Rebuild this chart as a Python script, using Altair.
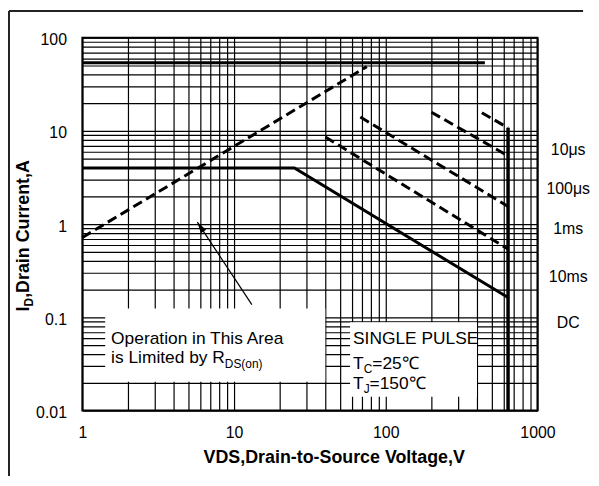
import altair as alt
import pandas as pd

FONT = "Liberation Sans"

# ---- grid / tick values ----
x_grid = [round(k * 10 ** e, 6) for e in range(0, 3) for k in range(1, 10)] + [1000]
y_grid = [round(k * 10 ** e, 6) for e in range(-2, 2) for k in range(1, 10)] + [100]
x_labels = [1, 10, 100, 1000]
y_labels = [0.01, 0.1, 1, 10, 100]

# ---- SOA curves (V, A) ----
solid_series = ["I_limit", "I_limit", "DC", "DC", "DC", "BV", "BV"]
solid_v = [1, 450, 1, 25, 640, 640, 640]
solid_i = [54, 54, 4, 4, 0.163, 10.8, 0.01]
solid_w = [3, 3, 3, 3, 3, 3.5, 3.5]

dash_series = ["RDS", "RDS", "10us", "10us", "100us", "100us", "1ms", "1ms", "10ms", "10ms"]
dash_v = [1, 75, 430, 640, 200, 640, 68, 640, 40, 640]
dash_i = [0.72, 49, 15.7, 10.8, 15.9, 5.4, 14.1, 1.55, 8.6, 0.54]

# right-hand labels
curve_labels = ["10μs", "100μs", "1ms", "10ms", "DC"]
curve_label_i = [6.28, 2.41, 0.885, 0.273, 0.0863]

# annotation arrow (tail -> tip)
arrow_v = [13.1, 5.73]
arrow_i = [0.137, 1.05]

solid_df = pd.DataFrame({"s": solid_series, "V": solid_v, "I": solid_i, "w": solid_w,
                         "o": list(range(len(solid_v)))})
dash_df = pd.DataFrame({"s": dash_series, "V": dash_v, "I": dash_i, "o": list(range(len(dash_v)))})
lab_df = pd.DataFrame({"t": curve_labels, "I": curve_label_i})
arrow_df = pd.DataFrame({"V": arrow_v, "I": arrow_i, "o": [0, 1]})
tip_df = pd.DataFrame({"V": [arrow_v[1]], "I": [arrow_i[1]]})
one = pd.DataFrame({"a": [0]})

xs = alt.Scale(type="log", domain=[1, 1000], nice=False)
ys = alt.Scale(type="log", domain=[0.01, 100], nice=False)

x_axis = alt.Axis(values=x_grid, grid=True, labelOverlap=False, labelFlush=False, labelBound=False,
                  labelExpr="indexof([1,10,100,1000], datum.value) >= 0 ? format(datum.value, '~g') : ''",
                  title=None, ticks=False, tickSize=0, domain=False, labelPadding=14)
y_axis = alt.Axis(values=y_grid, grid=True, labelOverlap=False, labelFlush=False, labelBound=False,
                  labelExpr="indexof([0.01,0.1,1,10,100], datum.value) >= 0 ? format(datum.value, '~g') : ''",
                  title=None, ticks=False, tickSize=0, domain=False, labelPadding=16, labelOffset=2)

base_x = alt.X("V:Q", scale=xs, axis=x_axis)
base_y = alt.Y("I:Q", scale=ys, axis=y_axis)

solid = alt.Chart(solid_df).mark_line(color="black", strokeCap="butt", strokeJoin="miter").encode(
    x=base_x, y=base_y, detail="s:N", order="o:Q",
    strokeWidth=alt.StrokeWidth("w:Q", scale=None, legend=None))

dashed = alt.Chart(dash_df).mark_line(color="black", strokeWidth=3, strokeDash=[10, 5],
                                      strokeCap="butt").encode(
    x=alt.X("V:Q", scale=xs), y=alt.Y("I:Q", scale=ys), detail="s:N", order="o:Q")

arrow_line = alt.Chart(arrow_df).mark_line(color="black", strokeWidth=1.2).encode(
    x=alt.X("V:Q", scale=xs), y=alt.Y("I:Q", scale=ys), order="o:Q")
arrow_head = alt.Chart(tip_df).mark_point(
    shape="M0,0L0.45,1.6L-0.45,1.6Z", filled=True, fill="black", color="black", opacity=1,
    fillOpacity=1, size=196, angle=326.5, strokeWidth=0.5).encode(
    x=alt.X("V:Q", scale=xs), y=alt.Y("I:Q", scale=ys))

labels = alt.Chart(lab_df).mark_text(font=FONT, fontSize=16, align="center", baseline="middle",
                                     color="black").encode(
    x=alt.value(490), y=alt.Y("I:Q", scale=ys), text="t:N")


def box(x1, x2, y1, y2):
    return alt.Chart(one).mark_rect(fill="white").encode(
        x=alt.value(x1), x2=alt.value(x2), y=alt.value(y1), y2=alt.value(y2))


def txt(s, x, y, size=17.5, weight="normal", angle=0, align="left"):
    return alt.Chart(one).mark_text(text=s, font=FONT, fontSize=size, fontWeight=weight,
                                    align=align, baseline="alphabetic", angle=angle,
                                    color="black").encode(x=alt.value(x), y=alt.value(y))


boxes = [box(23, 245, 273, 347), box(270, 398, 287, 362)]

texts = [
    txt("Operation in This Area", 29, 309),
    txt("is Limited by R", 29, 328),
    txt("DS(on)", 143.7, 333, size=12),
    txt("SINGLE PULSE", 273, 309),
    txt("T", 273, 334),
    txt("C", 283.7, 338, size=12),
    txt("=25℃", 292.4, 334),
    txt("T", 273, 354),
    txt("J", 283.7, 358, size=12),
    txt("=150℃", 289.7, 354),
    txt("VDS,Drain-to-Source Voltage,V", 254, 429, size=18, weight="bold", align="center"),
    txt("I", -54, 276, size=18, weight="bold", angle=270),
    txt("D", -50, 271, size=12, weight="bold", angle=270),
    txt(",Drain Current,A", -54, 262.3, size=18, weight="bold", angle=270),
]

frame_left = alt.Chart(one).mark_rule(color="#222", strokeWidth=2).encode(
    x=alt.value(-74), y=alt.value(-27), y2=alt.value(442))
frame_top = alt.Chart(one).mark_rule(color="#222", strokeWidth=2).encode(
    x=alt.value(-74), x2=alt.value(505), y=alt.value(-27))

chart = alt.layer(solid, dashed, *boxes, arrow_line, arrow_head, labels, *texts,
                  frame_left, frame_top).properties(
    width=459, height=376,
    autosize=alt.AutoSizeParams(type="none"),
    padding={"left": 75, "top": 28, "right": 54, "bottom": 66},
).configure_view(stroke="black", strokeWidth=2).configure_axis(
    gridColor="black", gridOpacity=1, gridWidth=1.2, labelFont=FONT, labelFontSize=16,
    labelColor="black")

chart.save("out.html", embed_options={"renderer": "svg", "actions": False})
